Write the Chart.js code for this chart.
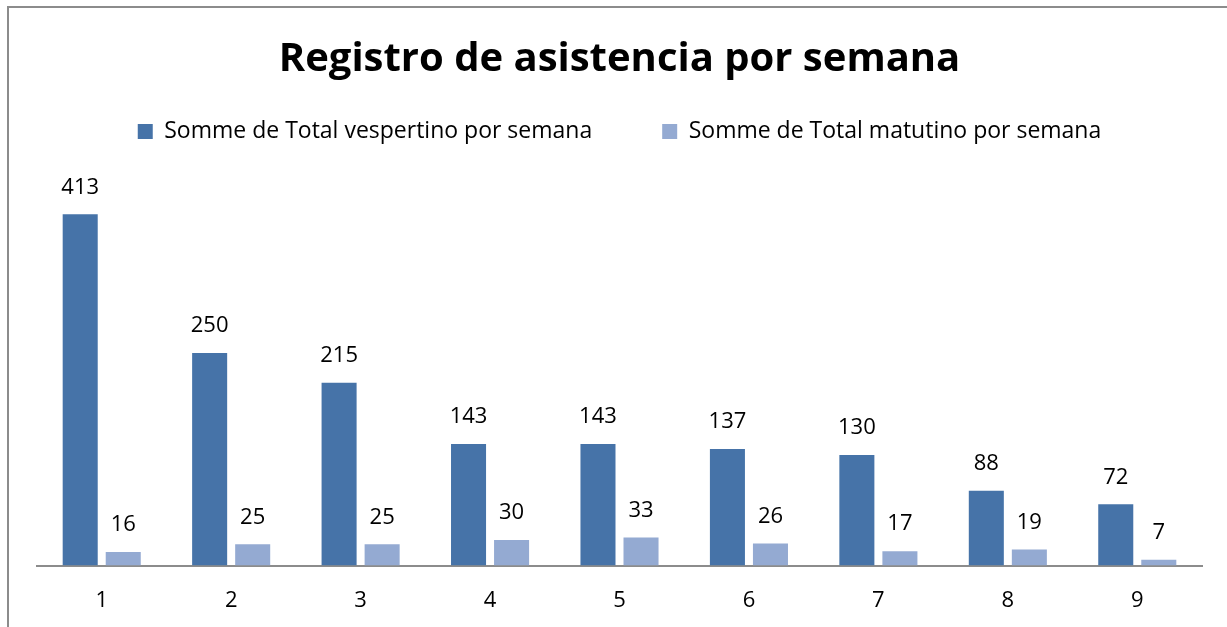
<!DOCTYPE html>
<html>
<head>
<meta charset="utf-8">
<script src="https://cdn.jsdelivr.net/npm/chart.js@4/dist/chart.umd.min.js"></script>
<style>
    html, body { margin: 0; padding: 0; background: #fff; overflow: hidden; }
    #marco {
        position: absolute; left: 7px; top: 6px; width: 1300px; height: 700px;
        border-left: 2px solid #8c8c8c; border-top: 2px solid #8c8c8c;
    }
    #contenedor { position: absolute; left: 0; top: 0; width: 1227px; height: 627px; }
</style>
</head>
<body>
<div id="marco"></div>
<div id="contenedor"><canvas id="graficoAsistencia"></canvas></div>
<script>
const semanas = ['1', '2', '3', '4', '5', '6', '7', '8', '9'];
const totalVespertino = [413, 250, 215, 143, 143, 137, 130, 88, 72];
const totalMatutino = [16, 25, 25, 30, 33, 26, 17, 19, 7];

const fuente = '"Open Sans", sans-serif';

// Etiquetas de valor encima de cada barra
const etiquetasBarras = {
    id: 'etiquetasBarras',
    afterDatasetsDraw(chart) {
        const ctx = chart.ctx;
        ctx.save();
        ctx.font = '22px ' + fuente;
        ctx.fillStyle = '#000';
        ctx.textAlign = 'center';
        ctx.textBaseline = 'middle';
        chart.data.datasets.forEach((ds, i) => {
            chart.getDatasetMeta(i).data.forEach((barra, j) => {
                ctx.fillText(ds.data[j], barra.x, barra.y - 27);
            });
        });
        ctx.restore();
    }
};

const ctx = document.getElementById('graficoAsistencia').getContext('2d');

new Chart(ctx, {
    type: 'bar',
    data: {
        labels: semanas,
        datasets: [{
            label: 'Somme de Total vespertino por semana',
            data: totalVespertino,
            backgroundColor: '#4673a8'
        }, {
            label: 'Somme de Total matutino por semana',
            data: totalMatutino,
            backgroundColor: '#94aad2'
        }]
    },
    options: {
        responsive: true,
        maintainAspectRatio: false,
        animation: false,
        layout: { padding: { left: 37, right: 25, top: 0, bottom: -9 } },
        datasets: {
            bar: { categoryPercentage: 0.665, barPercentage: 0.814 }
        },
        plugins: {
            title: {
                display: true,
                text: 'Registro de asistencia por semana',
                color: '#000',
                font: { family: fuente, size: 40, weight: 'bold' },
                padding: { top: 36, bottom: -34 }
            },
            legend: {
                display: true,
                labels: {
                    color: '#000',
                    font: { family: fuente, size: 23 },
                    boxWidth: 15,
                    boxHeight: 15,
                    padding: 70
                }
            },
            tooltip: { enabled: false }
        },
        scales: {
            x: {
                grid: { display: false, drawTicks: false },
                border: { display: true, color: '#8c8c8c', width: 2 },
                ticks: { color: '#000', font: { family: fuente, size: 22 }, padding: 22 }
            },
            y: {
                display: false,
                min: 0,
                max: 485
            }
        }
    },
    plugins: [etiquetasBarras]
});
</script>
</body>
</html>
